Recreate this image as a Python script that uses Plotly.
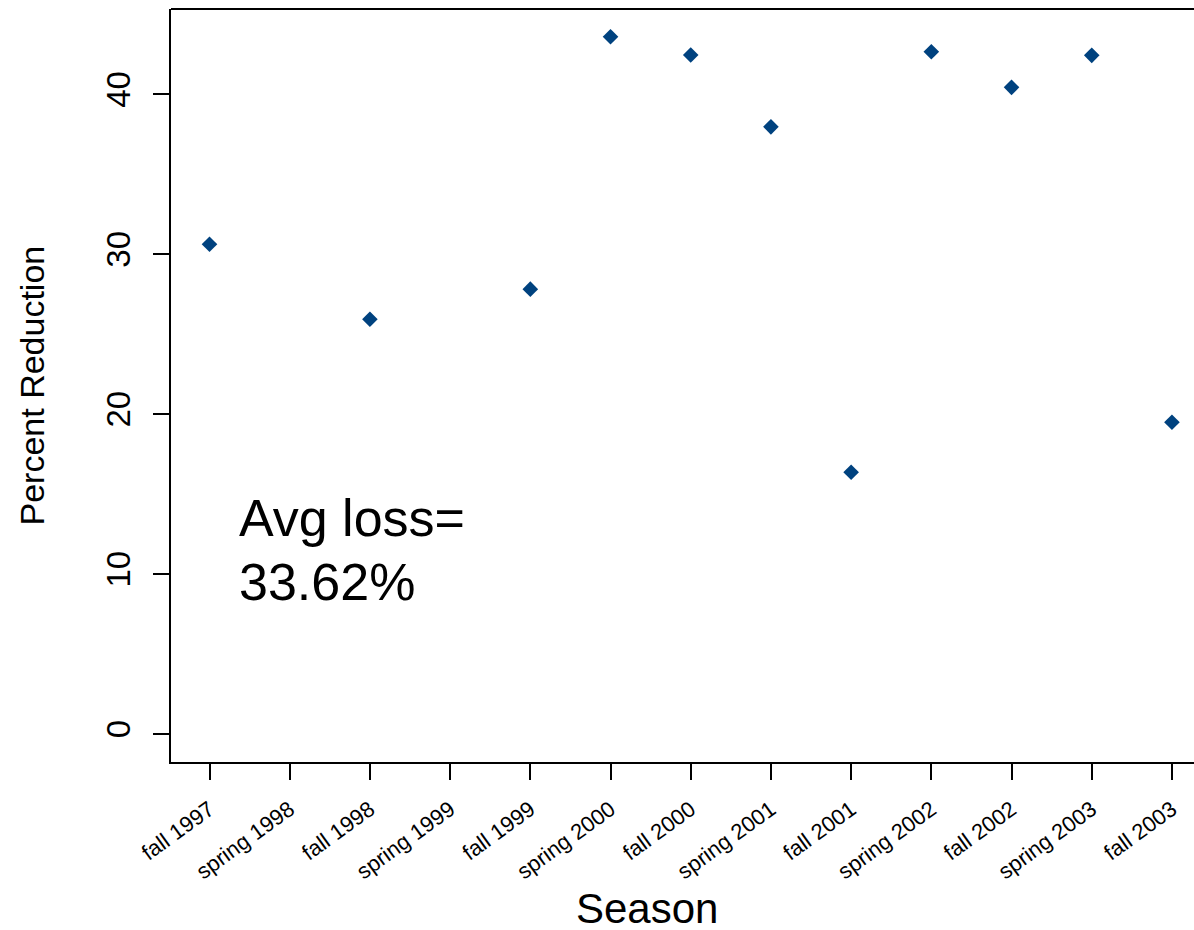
import plotly.graph_objects as go

# Seasons sampled, in order
seasons = ["fall 1997", "spring 1998", "fall 1998", "spring 1999", "fall 1999",
           "spring 2000", "fall 2000", "spring 2001", "fall 2001", "spring 2002",
           "fall 2002", "spring 2003", "fall 2003"]
# Percent reduction per season (no survey in spring 1998 / spring 1999)
reduction = [30.63, None, 25.94, None, 27.82,
             43.60, 42.46, 37.97, 16.37, 42.67,
             40.44, 42.44, 19.50]
y_ticks = [0, 10, 20, 30, 40]

vals = [v for v in reduction if v is not None]
avg_loss = sum(vals) / len(vals)

idx = list(range(len(seasons)))
FONT = "Liberation Sans, Arial, sans-serif"

fig = go.Figure()
fig.add_trace(go.Scatter(
    x=idx, y=reduction, mode="markers",
    marker=dict(symbol="diamond", size=12, color="#00427F", line=dict(width=0)),
    showlegend=False, hoverinfo="x+y",
))

fig.update_layout(
    width=1194, height=930,
    margin=dict(l=171, r=0, t=9, b=168, pad=0),
    paper_bgcolor="white", plot_bgcolor="white",
    font=dict(family=FONT, color="black"),
    xaxis=dict(
        range=[-0.48, 12.275], showgrid=False, zeroline=False,
        showline=True, linecolor="black", linewidth=2,
        ticks="outside", ticklen=16, tickwidth=2, tickcolor="black",
        tickvals=idx, ticktext=seasons, tickangle=-36,
        tickfont=dict(size=22, family=FONT, color="black"),
        ticklabelstandoff=8,
    ),
    yaxis=dict(
        range=[-1.75, 45.34], showgrid=False, zeroline=False,
        showline=True, linecolor="black", linewidth=2,
        ticks="outside", ticklen=16, tickwidth=2, tickcolor="black",
        tickvals=y_ticks, tickangle=-90,
        tickfont=dict(size=33, family=FONT, color="black"),
        ticklabelstandoff=10,
    ),
    shapes=[dict(type="line", xref="paper", yref="paper", x0=0, x1=1, y0=1, y1=1,
                 line=dict(color="black", width=2))],
    annotations=[
        dict(text="Percent Reduction", xref="paper", yref="paper",
             x=-0.1359, y=0.5, xanchor="center", yanchor="middle", textangle=-90,
             showarrow=False, font=dict(size=34, family=FONT, color="black")),
        dict(text="Season", xref="paper", yref="paper",
             x=0.4653, y=-0.1945, xanchor="center", yanchor="middle",
             showarrow=False, font=dict(size=42, family=FONT, color="black")),
        dict(text="Avg loss=", xref="x", yref="y", x=0.34, y=13.5,
             xanchor="left", yanchor="middle", showarrow=False,
             font=dict(size=52, family=FONT, color="black")),
        dict(text=f"{avg_loss:.2f}%", xref="x", yref="y", x=0.34, y=9.5,
             xanchor="left", yanchor="middle", showarrow=False,
             font=dict(size=52, family=FONT, color="black")),
    ],
)

fig.write_html("out.html")
